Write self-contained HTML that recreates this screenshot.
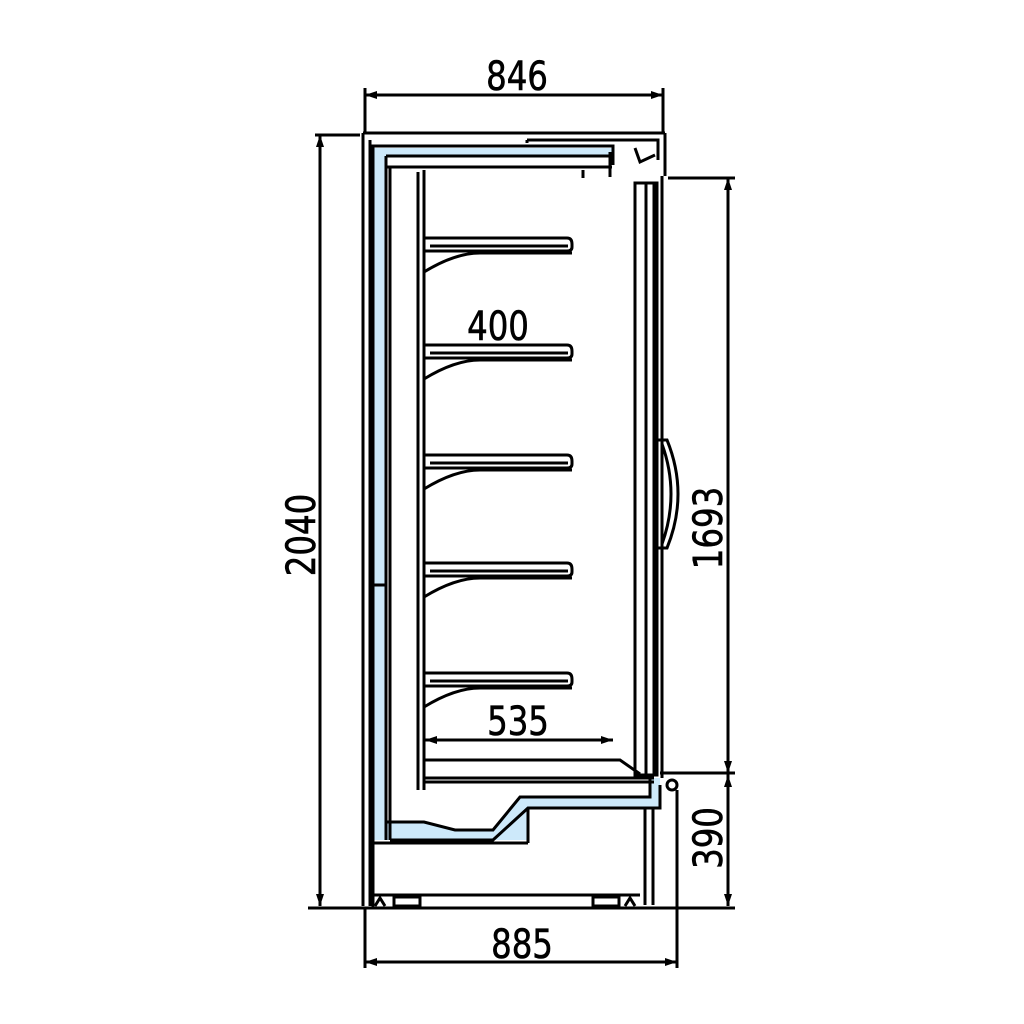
<!DOCTYPE html>
<html><head><style>
html,body{margin:0;padding:0;background:#fff;}
svg{display:block;}
text{font-family:"DejaVu Sans Condensed","Liberation Sans Narrow","Liberation Sans",sans-serif;font-size:40px;fill:#000;stroke:#000;stroke-width:0.6;}
</style></head><body>
<svg width="1024" height="1024" viewBox="0 0 1024 1024" xmlns="http://www.w3.org/2000/svg">
<g stroke="#000" stroke-width="3" fill="none">
<line x1="365" y1="88" x2="365" y2="133"/><line x1="663" y1="88" x2="663" y2="133"/>
<line x1="365" y1="95" x2="663" y2="95"/>
<line x1="315" y1="135" x2="360" y2="135"/>
<line x1="308" y1="908" x2="735" y2="908"/>
<line x1="320" y1="135" x2="320" y2="906"/>
<line x1="668" y1="178" x2="735" y2="178"/>
<line x1="660" y1="773" x2="735" y2="773"/>
<line x1="728" y1="178" x2="728" y2="906"/>
<line x1="365" y1="908" x2="365" y2="968"/><line x1="677" y1="790" x2="677" y2="968"/>
<line x1="365" y1="962" x2="677" y2="962"/>
<line x1="425" y1="740" x2="613" y2="740"/>
</g>
<g fill="#000">
<polygon points="365,95 377,91 377,99"/><polygon points="663,95 651,91 651,99"/>
<polygon points="320,135 316,147 324,147"/><polygon points="320,906 316,894 324,894"/>
<polygon points="728,178 724,190 732,190"/><polygon points="728,773 724,761 732,761"/>
<polygon points="728,775 724,787 732,787"/><polygon points="728,906 724,894 732,894"/>
<polygon points="365,962 377,958 377,966"/><polygon points="677,962 665,958 665,966"/>
<polygon points="425,740 437,736 437,744"/><polygon points="613,740 601,736 601,744"/>
</g>
<g transform="translate(517,90) scale(0.9,1)"><text text-anchor="middle">846</text></g>
<g transform="translate(522,958) scale(0.9,1)"><text text-anchor="middle">885</text></g>
<g transform="translate(498,340) scale(0.9,1)"><text text-anchor="middle">400</text></g>
<g transform="translate(518,735) scale(0.9,1)"><text text-anchor="middle">535</text></g>
<g transform="translate(315,535) rotate(-90) scale(0.9,1)"><text text-anchor="middle">2040</text></g>
<g transform="translate(722,528) rotate(-90) scale(0.9,1)"><text text-anchor="middle">1693</text></g>
<g transform="translate(722,838) rotate(-90) scale(0.9,1)"><text text-anchor="middle">390</text></g>

<g fill="#cde9fa" stroke="none">
<rect x="374" y="148" width="238" height="8"/>
<rect x="374" y="148" width="12" height="692"/>
<rect x="370" y="585" width="16" height="255"/>
<polygon points="386,822 424,822 455,830 493,830 520,797 650,797 650,778 660,778 660,808 528,808 528,840 386,840"/>
</g>
<g stroke="#000" stroke-width="3" fill="none">
<line x1="363" y1="133" x2="665" y2="133"/>
<line x1="363" y1="133" x2="363" y2="906"/>
<line x1="370" y1="140" x2="370" y2="906"/>
<line x1="665" y1="133" x2="665" y2="176"/>
<polyline points="527,140 658,140 658,160"/>
<line x1="527" y1="143" x2="527" y2="140"/>
<polyline points="373,908 373,146 613,146 613,165"/>
<line x1="386" y1="156" x2="612" y2="156"/>
<line x1="386" y1="156" x2="386" y2="840"/>
<line x1="387" y1="167" x2="612" y2="167"/>
<path d="M424,170 v8 M583,170 v8 M610,152 v25"/>
<polyline points="635,148 640,162 655,155"/>
<line x1="390" y1="167" x2="390" y2="840"/>
<line x1="418" y1="172" x2="418" y2="790"/>
<line x1="424" y1="175" x2="424" y2="790"/>
<line x1="370" y1="585" x2="386" y2="585"/>
<path d="M424,238 h143 q5,0 5,6 v3 q0,4 -5,4 h-143 M430,246 h138 M480,253 h92 M480,253 q-25,0 -56,19"/>
<path d="M424,345 h143 q5,0 5,6 v3 q0,4 -5,4 h-143 M430,353 h138 M480,360 h92 M480,360 q-25,0 -56,19"/>
<path d="M424,455 h143 q5,0 5,6 v3 q0,4 -5,4 h-143 M430,463 h138 M480,470 h92 M480,470 q-25,0 -56,19"/>
<path d="M424,563 h143 q5,0 5,6 v3 q0,4 -5,4 h-143 M430,571 h138 M480,578 h92 M480,578 q-25,0 -56,19"/>
<path d="M424,673 h143 q5,0 5,6 v3 q0,4 -5,4 h-143 M430,681 h138 M480,688 h92 M480,688 q-25,0 -56,19"/>
<path d="M424,760 h196 l20,14 M424,778 h230 M424,782 h230"/>
<rect x="635" y="183" width="22" height="592"/>
<line x1="646" y1="183" x2="646" y2="775"/>
<line x1="654" y1="183" x2="654" y2="775"/>
<line x1="662" y1="176" x2="662" y2="778"/>
<path d="M657,440 h10 q22,54 0,108 h-10 M662,444 q18,50 0,100"/>
<circle cx="672" cy="785" r="5"/>
<polyline points="386,822 424,822 455,830 493,830 520,797 650,797 650,778"/>
<polyline points="390,840 493,840 528,808 660,808 660,785"/>
<line x1="528" y1="808" x2="528" y2="843"/>
<line x1="370" y1="843" x2="528" y2="843"/>
<line x1="370" y1="895" x2="640" y2="895"/>
<line x1="645" y1="808" x2="645" y2="905"/>
<line x1="653" y1="808" x2="653" y2="905"/>
<rect x="394" y="897" width="26" height="9"/>
<rect x="593" y="897" width="26" height="9"/>
<path d="M375,906 l5,-8 l5,8 M625,906 l5,-8 l5,8"/>
</g>
</svg>
</body></html>
